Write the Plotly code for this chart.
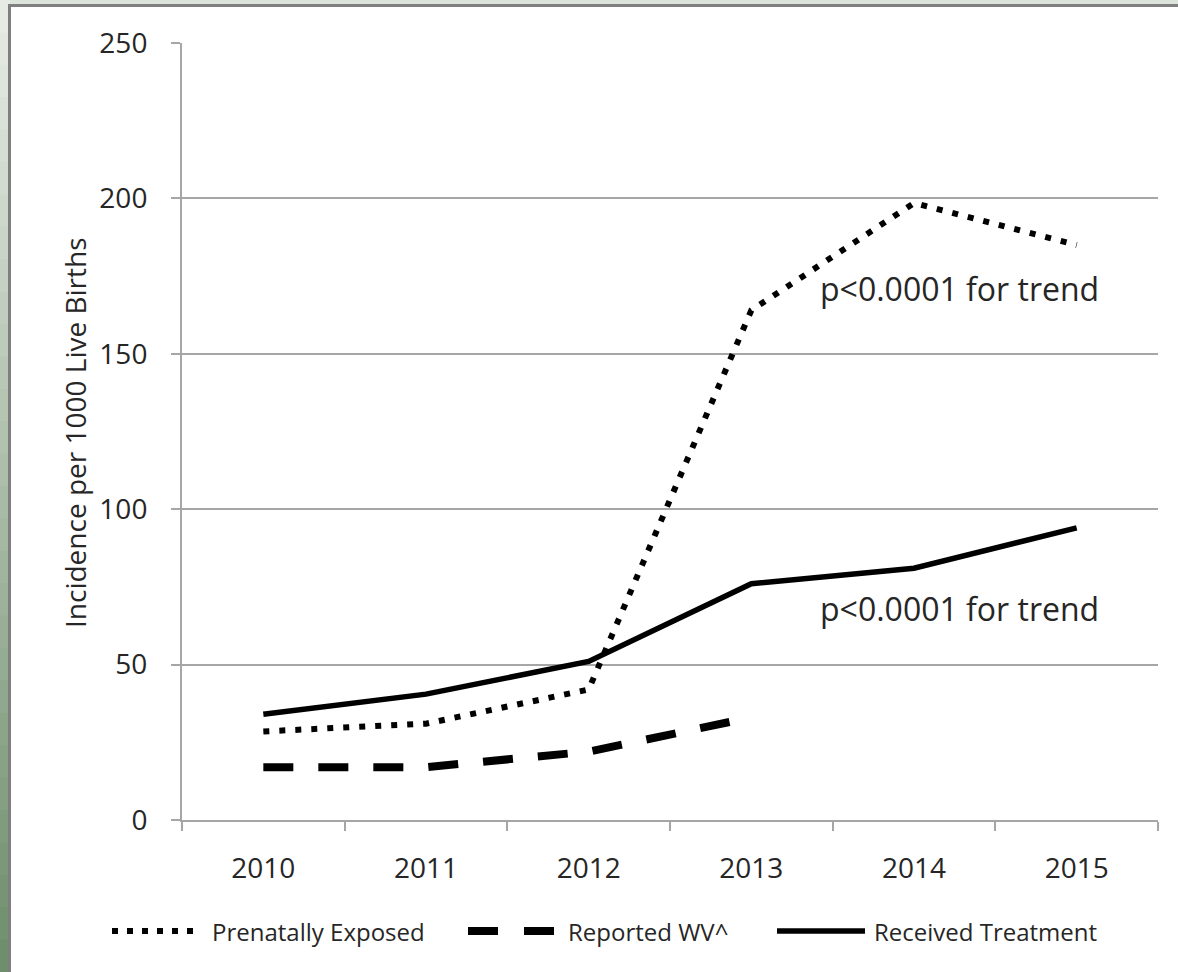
import plotly.graph_objects as go

# data
years = ["2010", "2011", "2012", "2013", "2014", "2015"]
prenatally_exposed = [28.5, 31, 42, 164, 198.5, 185]
reported_wv = [17, 17, 22, 33]          # only up to 2013
received_treatment = [34, 40.5, 51, 76, 81, 94]

y_ticks = [0, 50, 100, 150, 200, 250]
trend_note = "p<0.0001 for trend"

# plot area in pixels (page 1178 x 972)
L, R, T, B = 182, 1158, 43, 820
W, H = 1178, 972


def px(x):
    return (x - L) / (R - L)


def py(y):
    return (B - y) / (B - T)


def mix(c1, c2, t):
    a = [int(c1[i:i + 2], 16) for i in (1, 3, 5)]
    b = [int(c2[i:i + 2], 16) for i in (1, 3, 5)]
    return "#" + "".join("%02x" % round(a[k] + (b[k] - a[k]) * t) for k in range(3))


fig = go.Figure()

fig.add_trace(go.Scatter(x=years, y=received_treatment, mode="lines",
                         line=dict(color="black", width=5.5), name="Received Treatment"))
fig.add_trace(go.Scatter(x=years, y=prenatally_exposed, mode="lines",
                         line=dict(color="black", width=6, dash="6px,10px"), name="Prenatally Exposed"))
fig.add_trace(go.Scatter(x=years[:len(reported_wv)], y=reported_wv, mode="lines",
                         line=dict(color="black", width=8, dash="30px,25px"), name="Reported WV^"))

grid = "#a6a6a6"
txt = "#262626"
font_main = "Open Sans"

shapes = []
# green surround (gradient down the left strip) + white panel
n = 30
for i in range(n):
    shapes.append(dict(type="rect", xref="paper", yref="paper", layer="below",
                       x0=px(0), x1=px(10), y0=py(H * (i + 1) / n + 1), y1=py(H * i / n),
                       fillcolor=mix("#e6ebe4", "#6f8f6c", i / (n - 1)), line_width=0))
shapes.append(dict(type="rect", xref="paper", yref="paper", layer="below",
                   x0=px(9.5), x1=px(W + 10), y0=py(H + 10), y1=py(5.5),
                   fillcolor="white", line=dict(color="#7f7f7f", width=3)))

# custom legend
leg_y = py(931)
leg_items = [
    (112, 200, 210, "dot", "Prenatally Exposed"),
    (468, 555, 566, "dash", "Reported WV^"),
    (777, 865, 872, "solid", "Received Treatment"),
]
annotations = []
for x0, x1, xt, style, label in leg_items:
    if style == "dot":
        ln = dict(color="black", width=6, dash="6px,9px")
    elif style == "dash":
        ln = dict(color="black", width=8, dash="30px,26px")
    else:
        ln = dict(color="black", width=5.5)
    shapes.append(dict(type="line", xref="paper", yref="paper",
                       x0=px(x0), x1=px(x1), y0=leg_y, y1=leg_y, line=ln))
    annotations.append(dict(text=label, xref="paper", yref="paper", x=px(xt), y=leg_y,
                            xanchor="left", yanchor="middle", showarrow=False,
                            font=dict(family=font_main, size=24, color=txt)))

# p-value notes
annotations.append(dict(text=trend_note, x=3.41, y=171, xanchor="left", yanchor="middle",
                        showarrow=False, font=dict(family=font_main, size=32, color=txt)))
annotations.append(dict(text=trend_note, x=3.41, y=68, xanchor="left", yanchor="middle",
                        showarrow=False, font=dict(family=font_main, size=32, color=txt)))

# y axis title
annotations.append(dict(text="Incidence per 1000 Live Births", xref="paper", yref="paper",
                        x=px(75), y=py(433), textangle=-90, showarrow=False,
                        xanchor="center", yanchor="middle",
                        font=dict(family=font_main, size=28, color=txt)))

fig.update_layout(
    width=W, height=H,
    margin=dict(l=L, r=W - R, t=T, b=H - B),
    paper_bgcolor="#dde4db",
    plot_bgcolor="rgba(0,0,0,0)",
    showlegend=False,
    shapes=shapes,
    annotations=annotations,
    font=dict(family=font_main, color=txt),
)

fig.update_xaxes(type="category", range=[-0.5, 5.5], tickson="boundaries",
                 showline=True, linecolor=grid, linewidth=2,
                 ticks="outside", ticklen=9, tickcolor=grid, tickwidth=2,
                 showgrid=False, ticklabelstandoff=22,
                 tickfont=dict(family=font_main, size=28, color=txt))
fig.update_yaxes(range=[0, 250], tickvals=y_ticks, showgrid=True, gridcolor=grid, gridwidth=2,
                 showline=True, linecolor=grid, linewidth=2, zeroline=False,
                 ticks="outside", ticklen=9, tickcolor=grid, tickwidth=2,
                 ticklabelstandoff=18,
                 tickfont=dict(family=font_main, size=28, color=txt))

fig.write_html("out.html", config={"displayModeBar": False},
               post_script="document.body.style.margin='0px';")
